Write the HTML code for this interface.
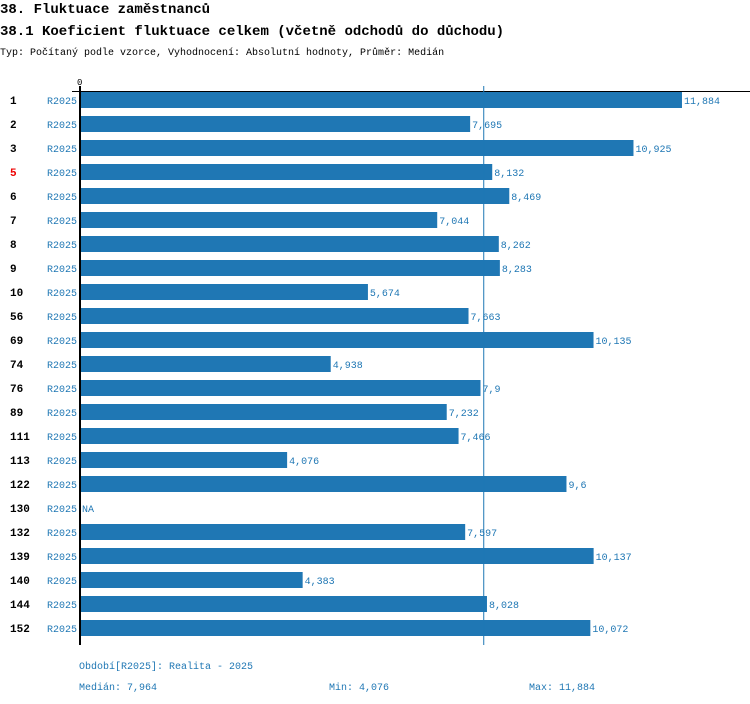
<!DOCTYPE html>
<html><head><meta charset="utf-8"><style>
body{margin:0;background:#fff;width:750px;height:704px;overflow:hidden}
svg{display:block;font-family:"Liberation Mono","DejaVu Sans Mono",monospace}
</style></head><body>
<svg id="c" width="750" height="704">
<text x="0" y="13" font-size="14" font-weight="bold" fill="#000">38. Fluktuace zaměstnanců</text>
<text x="0" y="35" font-size="14" font-weight="bold" fill="#000">38.1 Koeficient fluktuace celkem (včetně odchodů do důchodu)</text>
<text x="0" y="55" font-size="10" fill="#000">Typ: Počítaný podle vzorce, Vyhodnocení: Absolutní hodnoty, Průměr: Medián</text>
<text x="77" y="85" font-size="9" fill="#000">0</text>
<line x1="72" y1="91.5" x2="750" y2="91.5" stroke="#000" stroke-width="1"/>
<g id="bars"></g>
<line x1="80" y1="86" x2="80" y2="645" stroke="#000" stroke-width="2"/>
<text x="79" y="669" font-size="10" fill="#1f77b4">Období[R2025]: Realita - 2025</text>
<text id="med" x="79" y="690" font-size="10" fill="#1f77b4"></text>
<text id="min" x="329" y="690" font-size="10" fill="#1f77b4"></text>
<text id="max" x="529" y="690" font-size="10" fill="#1f77b4"></text>
</svg>
<script>
const categories=["1","2","3","5","6","7","8","9","10","56","69","74","76","89","111","113","122","130","132","139","140","144","152"];
const values=[11.884,7.695,10.925,8.132,8.469,7.044,8.262,8.283,5.674,7.663,10.135,4.938,7.9,7.232,7.466,4.076,9.6,null,7.597,10.137,4.383,8.028,10.072];
const labels=["11,884","7,695","10,925","8,132","8,469","7,044","8,262","8,283","5,674","7,663","10,135","4,938","7,9","7,232","7,466","4,076","9,6","NA","7,597","10,137","4,383","8,028","10,072"];
const highlighted=["5"];
const median=7.964, minV="4,076", maxV="11,884", medianLabel="7,964";
const NS="http://www.w3.org/2000/svg";
const x=v=>81+v*50.57;
const y=i=>92+i*24;
const g=document.getElementById('bars');
function mk(t,a){const e=document.createElementNS(NS,t);for(const k in a)e.setAttribute(k,a[k]);return e;}
categories.forEach((c,i)=>{
  const lt=mk('text',{x:10,y:y(i)+12,'font-size':11,'font-weight':'bold',fill:highlighted.includes(c)?'#e00':'#000'});
  lt.textContent=c;
  
  
  g.appendChild(lt);
  const pt=mk('text',{x:47,y:y(i)+12,'font-size':10,fill:'#1f77b4'});
  pt.textContent="R2025";
  
  
  g.appendChild(pt);
  const v=values[i];
  let end=82;
  if(v!==null){
    const r=mk('rect',{x:81,y:y(i),width:x(v)-81,height:16,fill:'#1f77b4'});
    
    
    g.appendChild(r);
    end=x(v)+2;
  }
  const vt=mk('text',{x:end,y:y(i)+12,'font-size':10,fill:'#1f77b4'});
  vt.textContent=labels[i];
  
  
  g.appendChild(vt);
});
const ml=mk('line',{x1:x(median),y1:86,x2:x(median),y2:645,stroke:'#1f77b4','stroke-width':1});


g.appendChild(ml);
document.getElementById('med').textContent="Medián: "+medianLabel;
document.getElementById('min').textContent="Min: "+minV;
document.getElementById('max').textContent="Max: "+maxV;
</script>
</body></html>
